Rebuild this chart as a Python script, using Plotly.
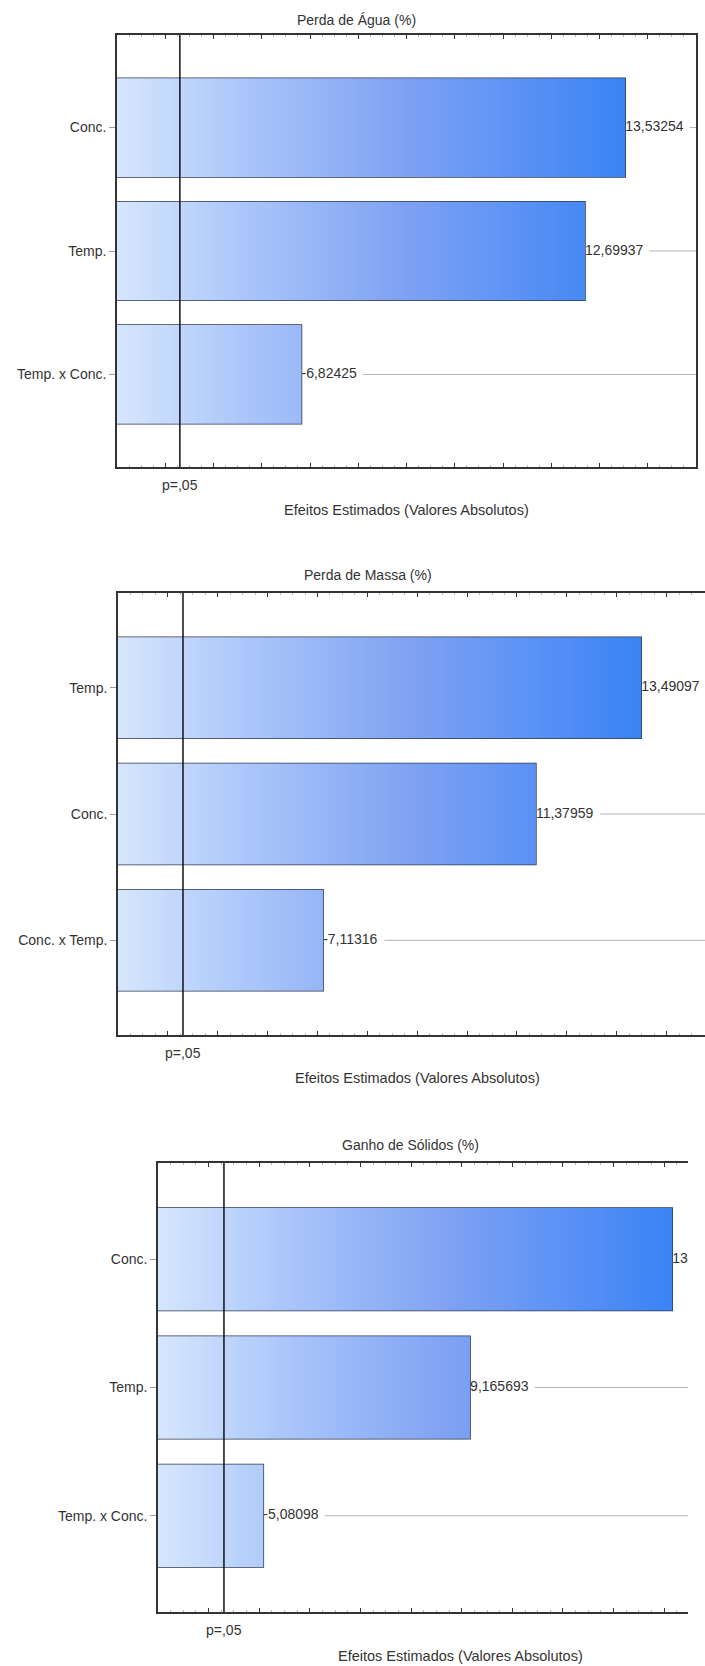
import plotly.graph_objects as go

# ---------------- data ----------------
titles = ["Perda de Água (%)", "Perda de Massa (%)", "Ganho de Sólidos (%)"]

factors_agua = ["Conc.", "Temp.", "Temp. x Conc."]
effects_agua = [13.53254, 12.69937, -6.82425]

factors_massa = ["Temp.", "Conc.", "Conc. x Temp."]
effects_massa = [13.49097, 11.37959, -7.11316]

factors_solidos = ["Conc.", "Temp.", "Temp. x Conc."]
effects_solidos = [13.15962, 9.165693, -5.08098]

p05_t = 4.303          # critical t value drawn as the p=,05 reference line
x_title = "Efeitos Estimados (Valores Absolutos)"
p_label = "p=,05"

# ---------------- layout constants ----------------
W, H = 705, 1666
FONT = "Liberation Sans, Arial, sans-serif"
TXT = "#333333"
FRAME = "#333333"
BAR_LINE = "#2d3a52"
CONNECT = "#b4b4b4"
BAR_W = 0.8
GRAD = [[0.0, "#d6e6fc"], [0.25, "#aac6fa"], [0.55, "#81a3f2"], [1.0, "#3a83f6"]]

# pixel boxes of each plotting area, x range, title/axis-title centres
panels = [
    dict(factors=factors_agua, effects=effects_agua, title=titles[0],
         box=(117, 696, 35, 467), xr=(3, 15.0), right_frame=True,
         tpos=(357, 20), xtpos=(407, 510)),
    dict(factors=factors_massa, effects=effects_massa, title=titles[1],
         box=(118, 705, 593, 1035), xr=(3, 14.77), right_frame=False,
         tpos=(368, 575), xtpos=(417, 1078)),
    dict(factors=factors_solidos, effects=effects_solidos, title=titles[2],
         box=(158, 688, 1163, 1612), xr=(3, 13.47), right_frame=False,
         tpos=(411, 1145), xtpos=(461, 1656)),
]

EM = {",": 0.278, ".": 0.278, "-": 0.333}


def text_width(s, size):
    return sum(EM.get(c, 0.556) for c in s) * size


def fmt(v):
    return f"{v:.7g}".replace(".", ",")


fig = go.Figure()
annotations = []
shapes = []
layout_axes = {}

for k, p in enumerate(panels, start=1):
    xa = "x" if k == 1 else f"x{k}"
    ya = "y" if k == 1 else f"y{k}"
    left, right, top, bottom = p["box"]
    x0r, x1r = p["xr"]
    ppu = (right - left) / (x1r - x0r)
    pos = list(range(len(p["factors"])))
    mags = [abs(v) for v in p["effects"]]
    labels = [fmt(v) for v in p["effects"]]

    # gradient fill of each bar (gradient runs along the value axis)
    for i, m in zip(pos, mags):
        fig.add_trace(go.Scatter(
            x=[0, m, m, 0, 0],
            y=[i - BAR_W / 2, i - BAR_W / 2, i + BAR_W / 2, i + BAR_W / 2, i - BAR_W / 2],
            mode="lines", line=dict(width=0), fill="toself",
            fillgradient=dict(type="horizontal", colorscale=GRAD,
                              start=x0r, stop=max(mags)),
            hoverinfo="skip", showlegend=False, xaxis=xa, yaxis=ya))

    # bar outlines
    fig.add_trace(go.Bar(
        x=mags, y=pos, orientation="h", width=BAR_W,
        marker=dict(color="rgba(0,0,0,0)", line=dict(color=BAR_LINE, width=1.5)),
        showlegend=False, xaxis=xa, yaxis=ya))

    # thin connector from each value label to the right edge
    cx, cy = [], []
    for i, m, lab in zip(pos, mags, labels):
        start = m + (text_width(lab, 14) + 6) / ppu
        if start < x1r:
            cx += [start, x1r, None]
            cy += [i, i, None]
    fig.add_trace(go.Scatter(
        x=cx, y=cy, mode="lines", line=dict(color=CONNECT, width=1),
        hoverinfo="skip", showlegend=False, xaxis=xa, yaxis=ya))

    # value labels
    fig.add_trace(go.Scatter(
        x=mags, y=pos, mode="text", text=labels, textposition="middle right",
        textfont=dict(family=FONT, size=14, color=TXT), cliponaxis=True,
        hoverinfo="skip", showlegend=False, xaxis=xa, yaxis=ya))

    key = "" if k == 1 else str(k)
    layout_axes[f"xaxis{key}"] = dict(
        domain=[left / W, right / W], anchor=ya, range=[x0r, x1r],
        showgrid=False, zeroline=False, showticklabels=False,
        showline=True, linecolor=FRAME, linewidth=1.5, mirror="ticks",
        ticks="inside", ticklen=4, tickcolor=FRAME, tick0=0, dtick=1,
        minor=dict(ticks="inside", ticklen=2, tickcolor="#bbbbbb", dtick=0.25),
    )
    layout_axes[f"yaxis{key}"] = dict(
        domain=[1 - bottom / H, 1 - top / H], anchor=xa,
        range=[len(pos) - 1 + 0.75, -0.75],
        tickvals=pos, ticktext=p["factors"],
        tickfont=dict(family=FONT, size=14, color=TXT),
        ticks="outside", ticklen=6, tickcolor="#9a9a9a",
        showgrid=False, zeroline=False,
        showline=True, linecolor=FRAME, linewidth=1.5,
        mirror=True if p["right_frame"] else False,
    )

    # p=,05 reference line
    shapes.append(dict(type="line", xref=xa, yref=f"{ya} domain",
                       x0=p05_t, x1=p05_t, y0=0, y1=1,
                       line=dict(color="#111111", width=1.5)))
    annotations.append(dict(text=p_label, xref=xa, yref=f"{ya} domain",
                            x=p05_t, y=0, xanchor="center", yanchor="top",
                            yshift=-8, showarrow=False,
                            font=dict(family=FONT, size=14, color=TXT)))
    # panel title and axis title
    annotations.append(dict(text=p["title"], xref="paper", yref="paper",
                            x=p["tpos"][0] / W, y=1 - p["tpos"][1] / H,
                            xanchor="center", yanchor="middle", showarrow=False,
                            font=dict(family=FONT, size=14, color=TXT)))
    annotations.append(dict(text=x_title, xref="paper", yref="paper",
                            x=p["xtpos"][0] / W, y=1 - p["xtpos"][1] / H,
                            xanchor="center", yanchor="middle", showarrow=False,
                            font=dict(family=FONT, size=14.5, color=TXT)))

fig.update_layout(
    width=W, height=H, margin=dict(l=0, r=0, t=0, b=0),
    paper_bgcolor="white", plot_bgcolor="white",
    barmode="overlay", showlegend=False,
    annotations=annotations, shapes=shapes,
    **layout_axes,
)

fig.write_html("out.html")
